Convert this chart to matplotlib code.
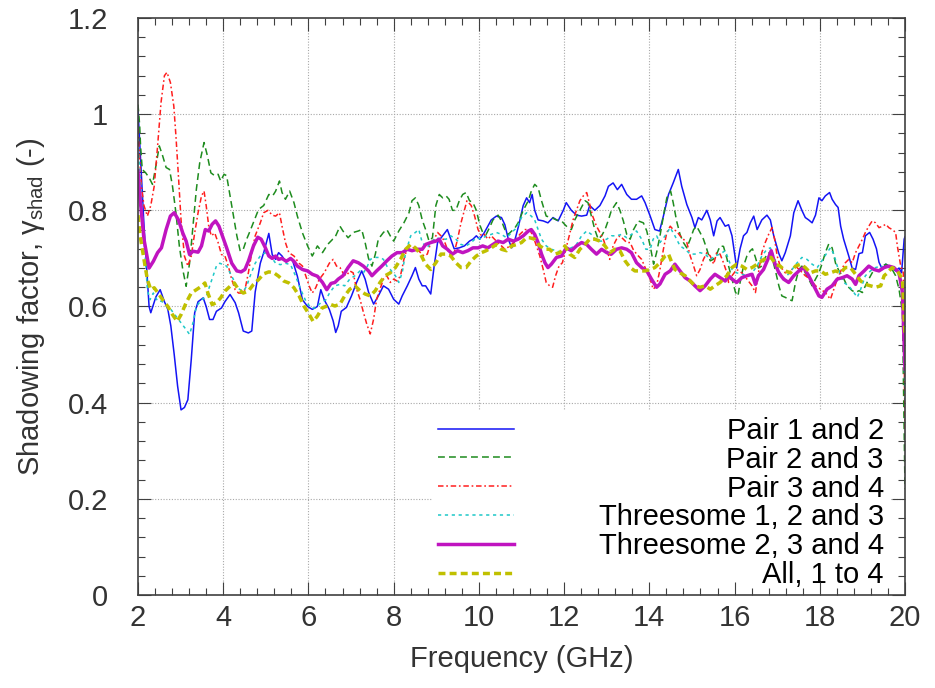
import matplotlib
matplotlib.use('Agg')
import matplotlib.pyplot as plt
from matplotlib.ticker import MultipleLocator, FuncFormatter

# Shadowing factor vs frequency
f_pair12 = [2.00, 2.14, 2.26, 2.30, 2.42, 2.52, 2.62, 2.70, 2.77, 2.85, 2.93, 3.01, 3.09, 3.17, 3.25, 3.33, 3.41, 3.53, 3.60, 3.68,
            3.76, 3.84, 3.96, 4.04, 4.16, 4.28, 4.36, 4.47, 4.59, 4.67, 4.75, 4.87, 4.95, 5.07, 5.15, 5.23, 5.30, 5.38, 5.46, 5.54,
            5.62, 5.74, 5.86, 5.98, 6.09, 6.21, 6.29, 6.37, 6.49, 6.58, 6.64, 6.70, 6.77, 6.89, 7.01, 7.13, 7.25, 7.33, 7.41, 7.53,
            7.64, 7.76, 7.88, 8.00, 8.12, 8.20, 8.32, 8.43, 8.51, 8.59, 8.67, 8.75, 8.87, 8.95, 9.03, 9.15, 9.26, 9.34, 9.42, 9.54,
            9.66, 9.78, 9.86, 9.94, 10.02, 10.13, 10.29, 10.41, 10.53, 10.61, 10.69, 10.77, 10.85, 10.93, 11.04, 11.12, 11.19, 11.25,
            11.31, 11.39, 11.51, 11.62, 11.74, 11.86, 11.98, 12.05, 12.17, 12.29, 12.41, 12.53, 12.60, 12.72, 12.84, 12.96, 13.04,
            13.15, 13.25, 13.35, 13.47, 13.58, 13.70, 13.82, 13.90, 14.02, 14.13, 14.24, 14.33, 14.45, 14.56, 14.68, 14.76, 14.88,
            15.00, 15.07, 15.15, 15.23, 15.35, 15.43, 15.51, 15.59, 15.66, 15.78, 15.86, 15.94, 16.05, 16.13, 16.21, 16.29, 16.37,
            16.45, 16.53, 16.64, 16.76, 16.84, 16.92, 17.04, 17.11, 17.19, 17.31, 17.39, 17.49, 17.58, 17.66, 17.74, 17.82, 17.90,
            17.98, 18.05, 18.13, 18.23, 18.29, 18.37, 18.43, 18.49, 18.56, 18.68, 18.76, 18.84, 18.92, 19.00, 19.07, 19.17, 19.25,
            19.33, 19.39, 19.47, 19.55, 19.62, 19.70, 19.78, 19.86, 19.92, 19.98, 20.00]
g_pair12 = [1.01, 0.77, 0.60, 0.587, 0.62, 0.635, 0.61, 0.594, 0.56, 0.50, 0.434, 0.385, 0.39, 0.406, 0.49, 0.587, 0.61, 0.618, 0.60, 0.573,
            0.573, 0.59, 0.597, 0.61, 0.625, 0.608, 0.587, 0.549, 0.545, 0.549, 0.63, 0.69, 0.712, 0.752, 0.708, 0.698, 0.712, 0.705, 0.694, 0.698,
            0.698, 0.663, 0.614, 0.60, 0.594, 0.60, 0.635, 0.614, 0.594, 0.57, 0.546, 0.56, 0.59, 0.598, 0.622, 0.65, 0.674, 0.657, 0.63, 0.605,
            0.622, 0.643, 0.636, 0.615, 0.605, 0.622, 0.643, 0.664, 0.681, 0.657, 0.643, 0.643, 0.626, 0.684, 0.733, 0.747, 0.76, 0.74, 0.72, 0.722,
            0.726, 0.736, 0.74, 0.747, 0.74, 0.754, 0.78, 0.788, 0.785, 0.77, 0.74, 0.722, 0.74, 0.767, 0.81, 0.826, 0.816, 0.833,
            0.80, 0.78, 0.778, 0.774, 0.785, 0.778, 0.80, 0.816, 0.80, 0.79, 0.788, 0.79, 0.81, 0.80, 0.81, 0.83, 0.85,
            0.857, 0.843, 0.854, 0.833, 0.823, 0.823, 0.83, 0.816, 0.788, 0.76, 0.757, 0.788, 0.833, 0.857, 0.885, 0.85, 0.812,
            0.785, 0.764, 0.785, 0.78, 0.80, 0.78, 0.747, 0.778, 0.785, 0.767, 0.77, 0.747, 0.68, 0.72, 0.747, 0.754, 0.774,
            0.788, 0.76, 0.78, 0.79, 0.78, 0.747, 0.71, 0.695, 0.712, 0.747, 0.795, 0.82, 0.80, 0.785, 0.78, 0.774, 0.79,
            0.826, 0.82, 0.83, 0.837, 0.823, 0.812, 0.806, 0.767, 0.74, 0.705, 0.68, 0.677, 0.71, 0.712, 0.747, 0.754, 0.74,
            0.72, 0.692, 0.677, 0.688, 0.684, 0.68, 0.674, 0.68, 0.67, 0.74, 0.745]

f_pair23 = [2.00, 2.04, 2.06, 2.10, 2.18, 2.26, 2.34, 2.42, 2.50, 2.58, 2.66, 2.74, 2.81, 2.89, 2.97, 3.05, 3.13, 3.21, 3.29, 3.37,
            3.45, 3.55, 3.63, 3.71, 3.80, 3.88, 3.94, 4.02, 4.08, 4.16, 4.24, 4.32, 4.40, 4.47, 4.55, 4.63, 4.71, 4.83, 4.95, 5.07,
            5.16, 5.23, 5.32, 5.38, 5.46, 5.56, 5.66, 5.74, 5.86, 5.98, 6.09, 6.21, 6.33, 6.45, 6.57, 6.62, 6.74, 6.81, 6.93, 7.05,
            7.17, 7.25, 7.33, 7.41, 7.49, 7.57, 7.64, 7.76, 7.84, 7.92, 8.00, 8.12, 8.24, 8.36, 8.43, 8.51, 8.59, 8.67, 8.75, 8.83,
            8.91, 8.99, 9.07, 9.15, 9.23, 9.30, 9.38, 9.46, 9.54, 9.62, 9.70, 9.78, 9.86, 9.94, 10.02, 10.09, 10.17, 10.25, 10.33,
            10.45, 10.53, 10.61, 10.69, 10.77, 10.85, 10.92, 11.04, 11.16, 11.23, 11.31, 11.39, 11.47, 11.58, 11.70, 11.82, 11.94,
            12.02, 12.09, 12.17, 12.25, 12.37, 12.49, 12.56, 12.64, 12.72, 12.80, 12.88, 12.96, 13.04, 13.11, 13.23, 13.31, 13.39,
            13.47, 13.55, 13.63, 13.74, 13.86, 13.94, 14.02, 14.10, 14.17, 14.25, 14.33, 14.41, 14.50, 14.56, 14.64, 14.72, 14.80,
            14.88, 14.96, 15.04, 15.11, 15.19, 15.27, 15.35, 15.43, 15.50, 15.58, 15.66, 15.74, 15.82, 15.86, 15.94, 16.02, 16.08,
            16.13, 16.21, 16.29, 16.37, 16.42, 16.49, 16.56, 16.64, 16.72, 16.80, 16.88, 16.96, 17.04, 17.11, 17.19, 17.27, 17.35,
            17.43, 17.51, 17.58, 17.66, 17.74, 17.82, 17.90, 17.98, 18.05, 18.13, 18.21, 18.29, 18.37, 18.45, 18.53, 18.64, 18.76,
            18.84, 18.92, 19.00, 19.07, 19.15, 19.23, 19.31, 19.39, 19.47, 19.55, 19.62, 19.70, 19.78, 19.86, 19.94, 20.00]
g_pair23 = [1.02, 0.976, 0.934, 0.885, 0.878, 0.868, 0.854, 0.892, 0.934, 0.913, 0.889, 0.885, 0.85, 0.795, 0.726, 0.677, 0.642, 0.69, 0.767, 0.844,
            0.90, 0.941, 0.913, 0.878, 0.872, 0.875, 0.861, 0.875, 0.872, 0.83, 0.788, 0.747, 0.715, 0.719, 0.74, 0.757, 0.775, 0.802, 0.81, 0.833,
            0.83, 0.84, 0.861, 0.837, 0.823, 0.84, 0.816, 0.788, 0.753, 0.726, 0.705, 0.726, 0.712, 0.729, 0.74, 0.743, 0.767, 0.757, 0.743, 0.754,
            0.757, 0.76, 0.733, 0.70, 0.684, 0.709, 0.74, 0.754, 0.76, 0.747, 0.736, 0.757, 0.774, 0.795, 0.82, 0.826, 0.81, 0.78, 0.76, 0.736,
            0.743, 0.81, 0.833, 0.826, 0.83, 0.823, 0.80, 0.80, 0.82, 0.833, 0.837, 0.82, 0.816, 0.80, 0.77, 0.754, 0.75, 0.764, 0.78,
            0.79, 0.778, 0.76, 0.75, 0.757, 0.764, 0.774, 0.80, 0.82, 0.84, 0.854, 0.847, 0.82, 0.788, 0.785, 0.78, 0.778,
            0.77, 0.764, 0.76, 0.78, 0.80, 0.82, 0.816, 0.788, 0.76, 0.74, 0.747, 0.76, 0.78, 0.80, 0.816, 0.80, 0.778,
            0.75, 0.74, 0.76, 0.778, 0.774, 0.757, 0.726, 0.688, 0.712, 0.747, 0.788, 0.826, 0.84, 0.816, 0.778, 0.75, 0.733,
            0.722, 0.74, 0.76, 0.767, 0.754, 0.74, 0.719, 0.695, 0.698, 0.709, 0.726, 0.725, 0.70, 0.684, 0.657, 0.63, 0.622,
            0.65, 0.684, 0.705, 0.716, 0.72, 0.702, 0.68, 0.684, 0.702, 0.712, 0.702, 0.674, 0.643, 0.622, 0.619, 0.615, 0.612,
            0.65, 0.677, 0.684, 0.67, 0.657, 0.643, 0.657, 0.67, 0.688, 0.712, 0.73, 0.722, 0.69, 0.674, 0.664, 0.643, 0.633,
            0.629, 0.633, 0.629, 0.643, 0.657, 0.67, 0.677, 0.674, 0.684, 0.688, 0.684, 0.677, 0.664, 0.636, 0.588, 0.22]

f_pair34 = [2.00, 2.02, 2.08, 2.14, 2.22, 2.30, 2.38, 2.46, 2.54, 2.62, 2.68, 2.76, 2.84, 2.89, 2.95, 3.01, 3.09, 3.17, 3.25, 3.33,
            3.41, 3.49, 3.55, 3.60, 3.66, 3.72, 3.80, 3.88, 3.96, 4.04, 4.12, 4.20, 4.28, 4.36, 4.43, 4.51, 4.59, 4.67, 4.75, 4.87,
            4.95, 5.05, 5.15, 5.23, 5.32, 5.38, 5.46, 5.54, 5.66, 5.78, 5.86, 5.94, 6.02, 6.09, 6.17, 6.25, 6.37, 6.49, 6.58, 6.66,
            6.74, 6.81, 6.89, 6.97, 7.05, 7.13, 7.21, 7.29, 7.37, 7.45, 7.53, 7.60, 7.68, 7.76, 7.84, 7.92, 8.00, 8.08, 8.16, 8.24,
            8.32, 8.40, 8.47, 8.55, 8.63, 8.71, 8.79, 8.87, 8.95, 9.03, 9.11, 9.19, 9.26, 9.34, 9.42, 9.50, 9.58, 9.66, 9.72, 9.82,
            9.90, 9.98, 10.06, 10.13, 10.21, 10.29, 10.41, 10.53, 10.61, 10.73, 10.85, 10.96, 11.08, 11.19, 11.27, 11.35, 11.43,
            11.51, 11.58, 11.66, 11.73, 11.80, 11.88, 11.96, 12.04, 12.12, 12.21, 12.29, 12.37, 12.45, 12.53, 12.59, 12.67, 12.76,
            12.84, 12.92, 13.00, 13.07, 13.15, 13.23, 13.31, 13.39, 13.47, 13.55, 13.62, 13.70, 13.82, 13.92, 14.02, 14.09, 14.17,
            14.25, 14.33, 14.41, 14.49, 14.56, 14.64, 14.72, 14.80, 14.88, 14.96, 15.04, 15.11, 15.19, 15.27, 15.35, 15.43, 15.51,
            15.58, 15.66, 15.74, 15.82, 15.86, 15.94, 16.05, 16.17, 16.29, 16.41, 16.49, 16.56, 16.64, 16.72, 16.80, 16.88, 16.94,
            17.00, 17.07, 17.19, 17.31, 17.43, 17.55, 17.66, 17.78, 17.90, 18.02, 18.13, 18.25, 18.33, 18.41, 18.51, 18.60, 18.68,
            18.76, 18.84, 18.92, 19.00, 19.07, 19.15, 19.23, 19.31, 19.39, 19.47, 19.55, 19.62, 19.70, 19.78, 19.82, 19.90, 19.96, 20.00]
g_pair34 = [0.97, 0.934, 0.85, 0.81, 0.788, 0.81, 0.85, 0.934, 1.024, 1.08, 1.087, 1.066, 1.017, 0.955, 0.87, 0.78, 0.705, 0.684, 0.705, 0.753,
            0.795, 0.83, 0.84, 0.81, 0.767, 0.747, 0.753, 0.733, 0.708, 0.705, 0.684, 0.656, 0.635, 0.628, 0.628, 0.635, 0.67, 0.712, 0.747, 0.774,
            0.795, 0.80, 0.79, 0.788, 0.795, 0.767, 0.733, 0.712, 0.705, 0.69, 0.684, 0.663, 0.642, 0.628, 0.639, 0.656, 0.67, 0.69, 0.698, 0.684,
            0.681, 0.67, 0.664, 0.674, 0.67, 0.636, 0.615, 0.588, 0.563, 0.543, 0.574, 0.615, 0.636, 0.657, 0.664, 0.65, 0.657, 0.653, 0.664, 0.698,
            0.722, 0.726, 0.722, 0.719, 0.712, 0.705, 0.709, 0.733, 0.74, 0.754, 0.747, 0.736, 0.719, 0.705, 0.712, 0.74, 0.774, 0.80, 0.82, 0.81,
            0.788, 0.76, 0.747, 0.75, 0.74, 0.747, 0.736, 0.726, 0.719, 0.726, 0.736, 0.75, 0.76, 0.76, 0.747, 0.726, 0.705,
            0.677, 0.65, 0.643, 0.64, 0.664, 0.684, 0.691, 0.719, 0.747, 0.78, 0.80, 0.82, 0.83, 0.837, 0.816, 0.788, 0.767,
            0.754, 0.74, 0.719, 0.698, 0.726, 0.74, 0.747, 0.74, 0.733, 0.733, 0.719, 0.709, 0.698, 0.677, 0.657, 0.636, 0.643,
            0.677, 0.719, 0.754, 0.767, 0.76, 0.757, 0.747, 0.74, 0.733, 0.705, 0.684, 0.664, 0.677, 0.698, 0.712, 0.705, 0.688,
            0.712, 0.709, 0.691, 0.67, 0.65, 0.664, 0.677, 0.67, 0.657, 0.643, 0.629, 0.67, 0.712, 0.733, 0.75, 0.764, 0.74,
            0.705, 0.684, 0.67, 0.674, 0.684, 0.674, 0.664, 0.657, 0.643, 0.636, 0.629, 0.615, 0.636, 0.657, 0.677, 0.691, 0.698,
            0.691, 0.712, 0.726, 0.74, 0.754, 0.767, 0.778, 0.774, 0.764, 0.767, 0.771, 0.764, 0.76, 0.754, 0.726, 0.684, 0.67, 0.34]

f_three123 = [2.00, 2.05, 2.13, 2.22, 2.28, 2.36, 2.46, 2.55, 2.66, 2.77, 2.89, 3.01, 3.13, 3.21, 3.29, 3.37, 3.49, 3.60, 3.68, 3.76,
              3.84, 3.92, 4.00, 4.08, 4.16, 4.24, 4.32, 4.40, 4.47, 4.55, 4.63, 4.75, 4.87, 4.99, 5.11, 5.23, 5.34, 5.46, 5.58, 5.70,
              5.82, 5.94, 6.06, 6.17, 6.29, 6.41, 6.50, 6.62, 6.74, 6.85, 6.97, 7.09, 7.21, 7.29, 7.37, 7.45, 7.57, 7.68, 7.76, 7.84,
              7.92, 8.04, 8.12, 8.20, 8.28, 8.40, 8.51, 8.59, 8.67, 8.79, 8.87, 8.99, 9.11, 9.23, 9.34, 9.46, 9.58, 9.70, 9.82, 9.94,
              10.06, 10.17, 10.29, 10.41, 10.53, 10.65, 10.77, 10.89, 11.00, 11.12, 11.23, 11.31, 11.39, 11.47, 11.58, 11.70, 11.82,
              11.94, 12.05, 12.17, 12.29, 12.41, 12.53, 12.64, 12.76, 12.88, 13.00, 13.11, 13.23, 13.35, 13.47, 13.58, 13.70, 13.82,
              13.92, 14.02, 14.09, 14.17, 14.25, 14.37, 14.49, 14.60, 14.72, 14.84, 14.96, 15.07, 15.19, 15.31, 15.43, 15.54, 15.66,
              15.78, 15.86, 15.94, 16.05, 16.17, 16.29, 16.41, 16.53, 16.64, 16.76, 16.84, 16.92, 17.00, 17.07, 17.15, 17.23, 17.35,
              17.47, 17.58, 17.70, 17.82, 17.94, 18.05, 18.17, 18.25, 18.33, 18.41, 18.49, 18.56, 18.68, 18.80, 18.88, 18.96, 19.07,
              19.19, 19.31, 19.43, 19.55, 19.66, 19.78, 19.90, 19.96, 20.00]
g_three123 = [0.93, 0.872, 0.753, 0.635, 0.614, 0.628, 0.611, 0.611, 0.604, 0.594, 0.58, 0.566, 0.552, 0.542, 0.566, 0.60, 0.614, 0.62, 0.642, 0.663,
              0.684, 0.69, 0.687, 0.684, 0.67, 0.656, 0.639, 0.635, 0.632, 0.642, 0.663, 0.69, 0.705, 0.712, 0.705, 0.69, 0.687, 0.69, 0.687, 0.663,
              0.635, 0.611, 0.597, 0.597, 0.608, 0.614, 0.629, 0.643, 0.646, 0.643, 0.657, 0.664, 0.674, 0.67, 0.681, 0.698, 0.702, 0.702, 0.698, 0.684,
              0.677, 0.664, 0.65, 0.67, 0.712, 0.747, 0.754, 0.76, 0.733, 0.722, 0.733, 0.743, 0.74, 0.74, 0.747, 0.74, 0.729, 0.726, 0.733, 0.743,
              0.74, 0.747, 0.75, 0.754, 0.75, 0.743, 0.754, 0.764, 0.785, 0.795, 0.788, 0.78, 0.76, 0.74, 0.726, 0.719, 0.716,
              0.712, 0.719, 0.722, 0.729, 0.747, 0.757, 0.75, 0.736, 0.736, 0.74, 0.747, 0.747, 0.75, 0.743, 0.75, 0.757, 0.74,
              0.719, 0.719, 0.74, 0.747, 0.733, 0.747, 0.764, 0.747, 0.726, 0.719, 0.709, 0.709, 0.712, 0.709, 0.698, 0.705, 0.709,
              0.716, 0.698, 0.677, 0.67, 0.667, 0.664, 0.67, 0.684, 0.705, 0.719, 0.722, 0.705, 0.684, 0.67, 0.657, 0.664, 0.677,
              0.691, 0.702, 0.698, 0.688, 0.681, 0.695, 0.712, 0.722, 0.709, 0.684, 0.664, 0.65, 0.643, 0.629, 0.619, 0.636, 0.664,
              0.674, 0.681, 0.684, 0.681, 0.681, 0.677, 0.657, 0.62, 0.40]

f_three234 = [2.00, 2.05, 2.14, 2.26, 2.36, 2.46, 2.55, 2.66, 2.76, 2.85, 2.95, 3.05, 3.13, 3.21, 3.29, 3.41, 3.49, 3.58, 3.66, 3.74,
              3.82, 3.90, 3.98, 4.08, 4.20, 4.32, 4.42, 4.51, 4.59, 4.71, 4.81, 4.89, 4.99, 5.07, 5.15, 5.23, 5.30, 5.38, 5.48, 5.58,
              5.66, 5.74, 5.86, 5.98, 6.09, 6.21, 6.33, 6.43, 6.53, 6.62, 6.70, 6.81, 6.93, 7.05, 7.17, 7.29, 7.41, 7.49, 7.60, 7.72,
              7.84, 7.96, 8.08, 8.20, 8.32, 8.43, 8.55, 8.67, 8.75, 8.87, 8.99, 9.07, 9.15, 9.26, 9.38, 9.50, 9.62, 9.74, 9.86, 9.98,
              10.09, 10.21, 10.33, 10.45, 10.57, 10.69, 10.81, 10.92, 11.04, 11.16, 11.23, 11.31, 11.39, 11.47, 11.55, 11.62, 11.70,
              11.82, 11.94, 12.05, 12.17, 12.29, 12.41, 12.53, 12.64, 12.76, 12.88, 13.00, 13.11, 13.23, 13.35, 13.47, 13.58, 13.70,
              13.82, 13.94, 14.05, 14.17, 14.25, 14.37, 14.49, 14.60, 14.72, 14.84, 14.96, 15.07, 15.19, 15.31, 15.43, 15.54, 15.66,
              15.78, 15.86, 15.94, 16.05, 16.17, 16.29, 16.41, 16.49, 16.56, 16.68, 16.80, 16.86, 16.94, 17.04, 17.15, 17.27, 17.39,
              17.51, 17.62, 17.74, 17.86, 17.98, 18.05, 18.17, 18.29, 18.41, 18.53, 18.64, 18.76, 18.84, 18.92, 19.04, 19.15, 19.27,
              19.39, 19.51, 19.62, 19.74, 19.86, 19.94, 20.00]
g_three234 = [0.882, 0.823, 0.74, 0.68, 0.694, 0.712, 0.722, 0.76, 0.788, 0.795, 0.78, 0.753, 0.736, 0.708, 0.715, 0.713, 0.726, 0.76, 0.757, 0.771,
              0.778, 0.767, 0.747, 0.722, 0.69, 0.674, 0.672, 0.677, 0.694, 0.726, 0.744, 0.74, 0.722, 0.705, 0.70, 0.705, 0.698, 0.70, 0.694, 0.70,
              0.694, 0.684, 0.677, 0.674, 0.667, 0.663, 0.65, 0.635, 0.648, 0.65, 0.657, 0.664, 0.681, 0.695, 0.691, 0.684, 0.674, 0.664, 0.674, 0.684,
              0.695, 0.705, 0.712, 0.712, 0.719, 0.716, 0.719, 0.719, 0.729, 0.733, 0.736, 0.74, 0.726, 0.719, 0.709, 0.716, 0.712, 0.716, 0.722, 0.722,
              0.726, 0.722, 0.729, 0.736, 0.733, 0.74, 0.736, 0.74, 0.747, 0.757, 0.76, 0.75, 0.733, 0.709, 0.691, 0.681, 0.688,
              0.702, 0.705, 0.722, 0.716, 0.726, 0.733, 0.729, 0.719, 0.709, 0.719, 0.712, 0.709, 0.719, 0.722, 0.719, 0.712, 0.691,
              0.681, 0.674, 0.657, 0.64, 0.647, 0.667, 0.674, 0.688, 0.674, 0.66, 0.653, 0.643, 0.633, 0.643, 0.657, 0.667, 0.66,
              0.653, 0.664, 0.657, 0.65, 0.66, 0.664, 0.667, 0.646, 0.664, 0.677, 0.702, 0.716, 0.691, 0.67, 0.657, 0.65, 0.664,
              0.674, 0.681, 0.664, 0.643, 0.622, 0.619, 0.636, 0.643, 0.657, 0.66, 0.664, 0.657, 0.646, 0.664, 0.674, 0.684, 0.677,
              0.674, 0.681, 0.684, 0.681, 0.67, 0.629, 0.47]

f_all = [2.00, 2.05, 2.14, 2.22, 2.30, 2.38, 2.47, 2.58, 2.70, 2.81, 2.92, 3.01, 3.13, 3.25, 3.37, 3.49, 3.57, 3.64, 3.74, 3.84,
         3.94, 4.04, 4.16, 4.26, 4.36, 4.47, 4.59, 4.71, 4.83, 4.95, 5.07, 5.19, 5.30, 5.42, 5.54, 5.66, 5.78, 5.90, 6.02, 6.11,
         6.21, 6.32, 6.41, 6.53, 6.62, 6.74, 6.85, 6.97, 7.09, 7.21, 7.33, 7.45, 7.57, 7.68, 7.80, 7.92, 8.04, 8.16, 8.28, 8.40,
         8.51, 8.63, 8.75, 8.87, 8.99, 9.11, 9.23, 9.34, 9.46, 9.58, 9.70, 9.82, 9.94, 10.06, 10.17, 10.29, 10.41, 10.53, 10.65,
         10.77, 10.89, 11.00, 11.12, 11.19, 11.31, 11.43, 11.55, 11.66, 11.78, 11.90, 12.02, 12.13, 12.25, 12.37, 12.49, 12.60,
         12.72, 12.84, 12.96, 13.07, 13.19, 13.31, 13.43, 13.55, 13.66, 13.78, 13.90, 14.02, 14.13, 14.25, 14.37, 14.45, 14.53,
         14.60, 14.72, 14.84, 14.96, 15.07, 15.19, 15.31, 15.43, 15.54, 15.66, 15.82, 15.94, 16.05, 16.17, 16.29, 16.41, 16.53,
         16.64, 16.76, 16.86, 16.96, 17.07, 17.19, 17.31, 17.43, 17.55, 17.66, 17.78, 17.90, 18.02, 18.13, 18.25, 18.37, 18.49,
         18.60, 18.72, 18.84, 18.96, 19.07, 19.19, 19.31, 19.43, 19.51, 19.59, 19.70, 19.82, 19.94, 20.00]
g_all = [0.79, 0.747, 0.698, 0.656, 0.635, 0.639, 0.628, 0.614, 0.60, 0.583, 0.569, 0.583, 0.608, 0.628, 0.635, 0.642, 0.649, 0.628, 0.604, 0.608,
         0.618, 0.632, 0.642, 0.649, 0.635, 0.628, 0.632, 0.646, 0.656, 0.668, 0.672, 0.67, 0.663, 0.653, 0.649, 0.639, 0.622, 0.60, 0.583, 0.569,
         0.58, 0.597, 0.60, 0.604, 0.601, 0.605, 0.622, 0.636, 0.643, 0.633, 0.626, 0.622, 0.633, 0.65, 0.664, 0.67, 0.681, 0.698, 0.719, 0.729,
         0.722, 0.709, 0.688, 0.677, 0.691, 0.709, 0.709, 0.705, 0.691, 0.681, 0.681, 0.695, 0.705, 0.712, 0.716, 0.722, 0.729, 0.719, 0.716,
         0.726, 0.729, 0.733, 0.743, 0.743, 0.74, 0.726, 0.719, 0.719, 0.709, 0.712, 0.726, 0.709, 0.702, 0.719, 0.729, 0.74,
         0.74, 0.736, 0.726, 0.712, 0.719, 0.716, 0.695, 0.681, 0.674, 0.674, 0.674, 0.677, 0.681, 0.691, 0.705, 0.709, 0.691,
         0.677, 0.67, 0.664, 0.653, 0.643, 0.64, 0.643, 0.636, 0.643, 0.65, 0.664, 0.681, 0.688, 0.684, 0.677, 0.681, 0.688,
         0.695, 0.702, 0.702, 0.688, 0.684, 0.674, 0.67, 0.684, 0.688, 0.681, 0.67, 0.674, 0.674, 0.667, 0.67, 0.674, 0.67,
         0.681, 0.681, 0.667, 0.653, 0.646, 0.643, 0.64, 0.643, 0.664, 0.67, 0.681, 0.674, 0.657, 0.54]

labels = ['Pair 1 and 2', 'Pair 2 and 3', 'Pair 3 and 4',
          'Threesome 1, 2 and 3', 'Threesome 2, 3 and 4', 'All, 1 to 4']

plt.rcParams['font.family'] = ['Liberation Sans', 'DejaVu Sans']
plt.rcParams['mathtext.fontset'] = 'custom'
plt.rcParams['mathtext.rm'] = 'Liberation Sans'
plt.rcParams['mathtext.it'] = 'Liberation Sans:italic'
plt.rcParams['mathtext.bf'] = 'Liberation Sans:bold'

FS = 21
TXT = '#333333'
AXC = '#404040'

fig = plt.figure(figsize=(9.35, 6.88), dpi=100)
ax = fig.add_axes([138 / 935, 1 - 595 / 688, 767 / 935, 577 / 688])

# line styles roughly like the gnuplot terminal
styles = [
    dict(color='#1414f5', lw=1.1, ls='-'),
    dict(color='#1e8c1e', lw=1.1, ls=(0, (4.5, 2.7))),
    dict(color='#ff1e1e', lw=1.1, ls=(0, (3.6, 1.8, 1.1, 1.8))),
    dict(color='#1ec8c8', lw=1.1, ls=(0, (2.1, 2.4))),
    dict(color='#c014c0', lw=2.5, ls='-'),
    dict(color='#c0c000', lw=2.5, ls=(0, (2.0, 1.2))),
]
data = [(f_pair12, g_pair12), (f_pair23, g_pair23), (f_pair34, g_pair34),
        (f_three123, g_three123), (f_three234, g_three234), (f_all, g_all)]

for (f, g), lab, st in zip(data, labels, styles):
    ax.plot(f, g, color=st['color'], lw=st['lw'], linestyle=st['ls'], label=lab, zorder=2)

ax.set_xlim(2, 20)
ax.set_ylim(0, 1.2)
ax.xaxis.set_major_locator(MultipleLocator(2))
ax.xaxis.set_minor_locator(MultipleLocator(0.4))
ax.yaxis.set_major_locator(MultipleLocator(0.2))
ax.yaxis.set_minor_locator(MultipleLocator(0.04))
ax.xaxis.set_major_formatter(FuncFormatter(lambda v, p: '%g' % round(v, 3)))
ax.yaxis.set_major_formatter(FuncFormatter(lambda v, p: '%g' % round(v, 3)))

# dotted grid drawn under the key, so the key hides it
for xv in ax.get_xticks():
    if 2 < xv < 20:
        ax.axvline(xv, color='#a8a8a8', lw=0.8, ls=(0, (1, 1.5)), zorder=0.5)
for yv in ax.get_yticks():
    if 0 < yv < 1.2:
        ax.axhline(yv, color='#a8a8a8', lw=0.8, ls=(0, (1, 1.5)), zorder=0.5)

ax.tick_params(which='both', direction='in', top=True, right=True, color=AXC, width=0.8)
ax.tick_params(which='major', length=9.4)
ax.tick_params(which='minor', length=5)
ax.tick_params(axis='x', which='major', labelsize=FS, labelcolor=TXT, pad=6.5)
ax.tick_params(axis='y', which='major', labelsize=FS, labelcolor=TXT, pad=21.5)
for s in ax.spines.values():
    s.set_color(AXC)
    s.set_linewidth(1.2)

ax.set_xlabel('Frequency (GHz)', fontsize=FS, color=TXT)
ax.set_ylabel(r'Shadowing factor, γ$_{\mathrm{shad}}$ (-)', fontsize=FS, color=TXT)
ax.xaxis.set_label_coords(0.5, -0.087)
ax.yaxis.set_label_coords(-0.118, 0.5)

leg = ax.legend(loc='lower right', bbox_to_anchor=(0.98, 0.0), fontsize=FS,
                handlelength=2.6, handletextpad=2.9, labelspacing=0.03,
                borderpad=0.2, borderaxespad=0, fancybox=False, framealpha=1)
leg.get_frame().set_facecolor('white')
leg.get_frame().set_edgecolor('none')
leg.set_zorder(1)

# right-align the key texts like gnuplot does: push each text so that
# it ends where the widest one ends
renderer = fig.canvas.get_renderer()
widths = [t.get_window_extent(renderer).width for t in leg.get_texts()]
shift = max(widths)
for t, w in zip(leg.get_texts(), widths):
    t.set_position((shift - w, 0))
    t.set_color('black')

fig.savefig('out.png', dpi=100)
